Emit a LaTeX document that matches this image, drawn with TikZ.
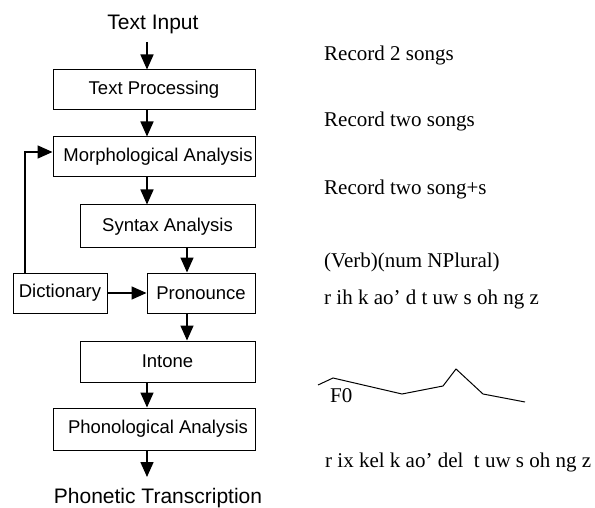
\documentclass[tikz,border=0pt]{standalone}
\usepackage{fontspec}
\setmainfont{Liberation Serif}
\newfontfamily\helv{Liberation Sans}
\usetikzlibrary{arrows.meta}
\begin{document}
\begin{tikzpicture}[x=1pt,y=-1pt,
  box/.style={draw,line width=1pt,inner sep=0pt,font=\helv\fontsize{18.5}{21}\selectfont},
  arr/.style={line width=1.6pt,-{Triangle[length=15pt,width=13pt]}},
  title/.style={font=\helv\fontsize{21}{25}\selectfont,inner sep=0pt,anchor=base},
  note/.style={font=\fontsize{21}{25}\selectfont,inner sep=0pt,anchor=base west}]
\useasboundingbox (0,0) rectangle (595,508);
% boxes
\node[box,minimum width=202pt,minimum height=40pt] (tp) at (154,90) {Text Processing\hspace{14pt}};
\node[box,minimum width=202pt,minimum height=40pt] (morph) at (154,157) {\hspace{8pt}Morphological Analysis};
\node[box,minimum width=175pt,minimum height=43pt] (syn) at (167.5,226.5) {Syntax Analysis};
\node[box,minimum width=108pt,minimum height=40pt] (pron) at (201,293) {Pronounce};
\node[box,minimum width=94pt,minimum height=40pt] (dict) at (60,293) {Dictionary};
\node[box,minimum width=175pt,minimum height=41pt] (int) at (167.5,361.5) {Intone\hspace{18pt}};
\node[box,minimum width=202pt,minimum height=42pt] (phon) at (154,429) {\hspace{8pt}Phonological Analysis};
\node[title] (tin) at (153,30) {Text Input};
\node[title] (ptr) at (158,503) {Phonetic Transcription};
% arrow columns
\coordinate (ax) at (147,0);
\coordinate (bx) at (187,0);
\coordinate (fx) at (25,0);
% connectors
\draw[arr] ([yshift=-12pt]tin.base -| ax) -- (tp.north -| ax);
\draw[arr] (tp.south -| ax) -- (morph.north -| ax);
\draw[arr] (morph.south -| ax) -- (syn.north -| ax);
\draw[arr] (syn.south -| bx) -- (pron.north -| bx);
\draw[arr] (pron.south -| bx) -- (int.north -| bx);
\draw[arr] (int.south -| ax) -- (phon.north -| ax);
\draw[arr] (phon.south -| ax) -- ([yshift=26pt]ptr.base -| ax);
\draw[arr] (dict.east) -- (pron.west);
\draw[arr] (dict.north -| fx) |- ([yshift=5pt]morph.west);
% right-hand annotations
\node[note] (n1) at (324,61) {Record 2 songs};
\node[note] (n2) at (324,127) {Record two songs};
\node[note] (n3) at (324,195) {Record two song+s};
\node[note] (n4) at (324,267) {(Verb)(num NPlural)};
\node[note] (n5) at (324,305) {r ih k ao' d t uw s oh ng z};
\node[note] (n6) at (330,402) {F0};
\node[note] (n7) at (325,467) {r ix kel k ao' del\ \ t uw s oh ng z};
\draw[line width=1pt,line join=miter] (318,385) -- (333,378) -- (402,394) -- (443,386) -- (456,369) -- (483,394) -- (525,402);
\end{tikzpicture}
\end{document}
